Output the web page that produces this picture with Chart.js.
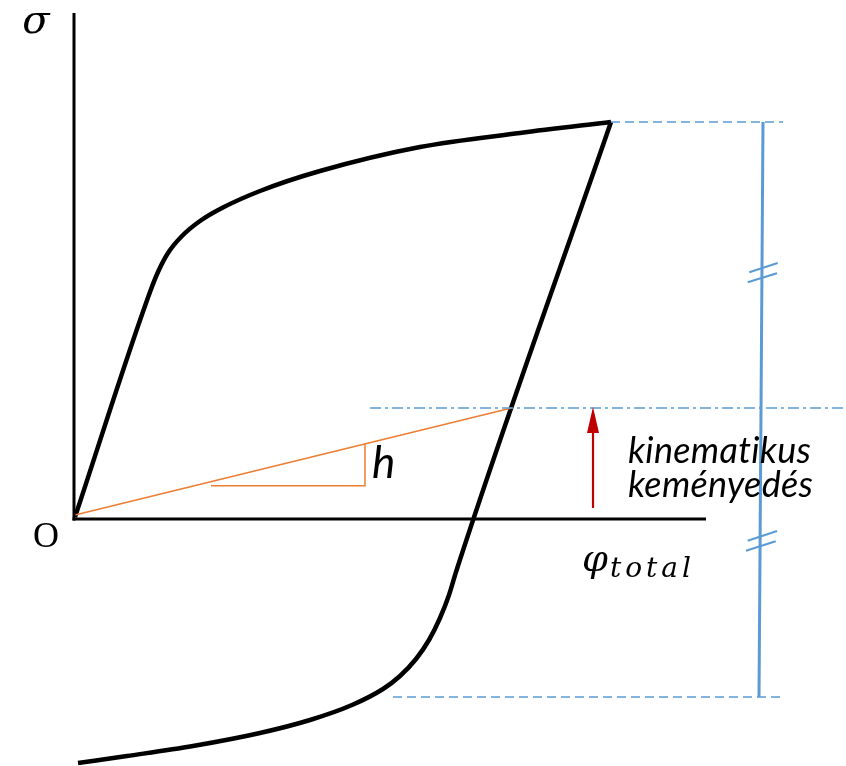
<!DOCTYPE html>
<html>
<head>
<meta charset="utf-8">
<script src="https://cdn.jsdelivr.net/npm/chart.js@4.4.1/dist/chart.umd.min.js"></script>
<style>
  html, body { margin: 0; padding: 0; background: #fff; }
  #wrap { width: 846px; height: 766px; }
</style>
</head>
<body>
<div id="wrap"><canvas id="loop"></canvas></div>
<script>
// Hysteresis loop, strain (phi) vs stress (sigma), arbitrary units
const loadPhi = [0.01, 0.76, 0.84, 0.94, 1.08, 1.26, 1.48, 1.86, 2.46, 3.46, 4.46, 5.37];
const loadSigma = [0.02, 2.27, 2.47, 2.66, 2.83, 2.98, 3.11, 3.28, 3.48, 3.72, 3.86, 3.97];
// reverse branch, listed from its far end back up to the peak
const unloadPhi = [0.04, 0.53, 1.19, 1.86, 2.36, 2.78, 3.09, 3.26, 3.42, 3.55, 3.66, 3.75, 3.82, 5.37];
const unloadSigma = [-2.44, -2.37, -2.27, -2.14, -2.01, -1.86, -1.70, -1.57, -1.40, -1.21, -0.99, -0.76, -0.53, 3.97];

// hardening slope (orange) and its little triangle
const slopePhi = [0.01, 4.375];
const slopeSigma = [0.04, 1.11];
const triPhi = [1.37, 2.91, 2.91];
const triSigma = [0.333, 0.333, 0.75];

// reference levels (blue)
const shiftLevel = 1.11;      // kinematic shift
const topLevel = 3.97;        // max stress
const bottomLevel = -1.78;    // min stress on reverse branch

const pts = (xs, ys) => xs.map((x, i) => ({ x: x, y: ys[i] }));
const seg = (x1, y1, x2, y2) => [{ x: x1, y: y1 }, { x: x2, y: y2 }];

const BLACK = '#000000';
const BLUE = '#5B9BD5';
const ORANGE = '#ED7D31';
const RED = '#C00000';

function line(data, color, width, extra) {
    return Object.assign({
        data: data,
        showLine: true,
        borderColor: color,
        borderWidth: width,
        pointRadius: 0,
        fill: false,
        tension: 0
    }, extra || {});
}

const datasets = [
    // axes
    line(seg(0, -0.015, 0, 5.06), BLACK, 3),
    line(seg(-0.015, 0, 6.32, 0), BLACK, 3),
    // blue helpers
    line(seg(2.96, shiftLevel, 7.72, shiftLevel), BLUE, 1.5, { borderDash: [11, 4, 3, 4] }),
    line(seg(5.37, topLevel, 7.09, topLevel), BLUE, 1.5, { borderDash: [9, 5] }),
    line(seg(3.19, bottomLevel, 7.11, bottomLevel), BLUE, 1.5, { borderDash: [9, 5] }),
    line(seg(6.89, topLevel, 6.85, bottomLevel), BLUE, 3),
    line(seg(6.753, 2.467, 7.037, 2.56), BLUE, 2),
    line(seg(6.737, 2.367, 7.03, 2.457), BLUE, 2),
    line(seg(6.737, -0.217, 7.03, -0.12), BLUE, 2),
    line(seg(6.72, -0.317, 7.017, -0.223), BLUE, 2),
    // orange slope
    line(pts(slopePhi, slopeSigma), ORANGE, 1.5),
    line(pts(triPhi, triSigma), ORANGE, 1.5),
    // loop
    line(pts(loadPhi, loadSigma), BLACK, 4.5, { cubicInterpolationMode: 'monotone' }),
    line(pts(unloadPhi, unloadSigma), BLACK, 4.5, { cubicInterpolationMode: 'monotone' }),
    // red arrow shaft
    line(seg(5.19, 0.11, 5.19, 0.95), RED, 2.2)
];

const labelsPlugin = {
    id: 'labels',
    afterDatasetsDraw(chart) {
        const ctx = chart.ctx;
        const sx = chart.scales.x, sy = chart.scales.y;
        const X = v => sx.getPixelForValue(v);
        const Y = v => sy.getPixelForValue(v);
        ctx.save();

        // arrow head
        const tx = X(5.19), ty = Y(1.12);
        ctx.fillStyle = RED;
        ctx.beginPath();
        ctx.moveTo(tx, ty);
        ctx.lineTo(tx - 6, ty + 26);
        ctx.lineTo(tx + 6, ty + 26);
        ctx.closePath();
        ctx.fill();

        ctx.fillStyle = '#000';
        ctx.textBaseline = 'alphabetic';

        ctx.textAlign = 'center';
        ctx.font = 'italic 40px "DejaVu Serif"';
        ctx.fillText('σ', X(-0.38), Y(4.86));

        ctx.font = '36px "Liberation Serif"';
        ctx.fillText('O', X(-0.28), Y(-0.28));

        ctx.textAlign = 'left';
        ctx.font = 'italic 37px "DejaVu Serif"';
        ctx.fillText('φ', X(5.08), Y(-0.52));
        ctx.font = 'italic 28px "DejaVu Serif"';
        ctx.letterSpacing = '4px';
        ctx.fillText('total', X(5.36), Y(-0.58));

        ctx.letterSpacing = '0.3px';
        ctx.font = 'italic 44px Lato';
        ctx.fillText('h', X(2.98), Y(0.41));

        ctx.font = 'italic 36px Lato';
        ctx.fillText('kinematikus', X(5.54), Y(0.56));
        ctx.fillText('keményedés', X(5.54), Y(0.22));

        ctx.restore();
    }
};

new Chart(document.getElementById('loop'), {
    type: 'scatter',
    data: { datasets: datasets },
    options: {
        responsive: true,
        maintainAspectRatio: false,
        animation: false,
        events: [],
        layout: { padding: 0 },
        datasets: { scatter: { clip: false } },
        plugins: {
            legend: { display: false },
            tooltip: { enabled: false }
        },
        scales: {
            x: { type: 'linear', min: -0.74, max: 7.72, display: false },
            y: { type: 'linear', min: -2.47, max: 5.19, display: false }
        }
    },
    plugins: [labelsPlugin]
});
</script>
</body>
</html>
